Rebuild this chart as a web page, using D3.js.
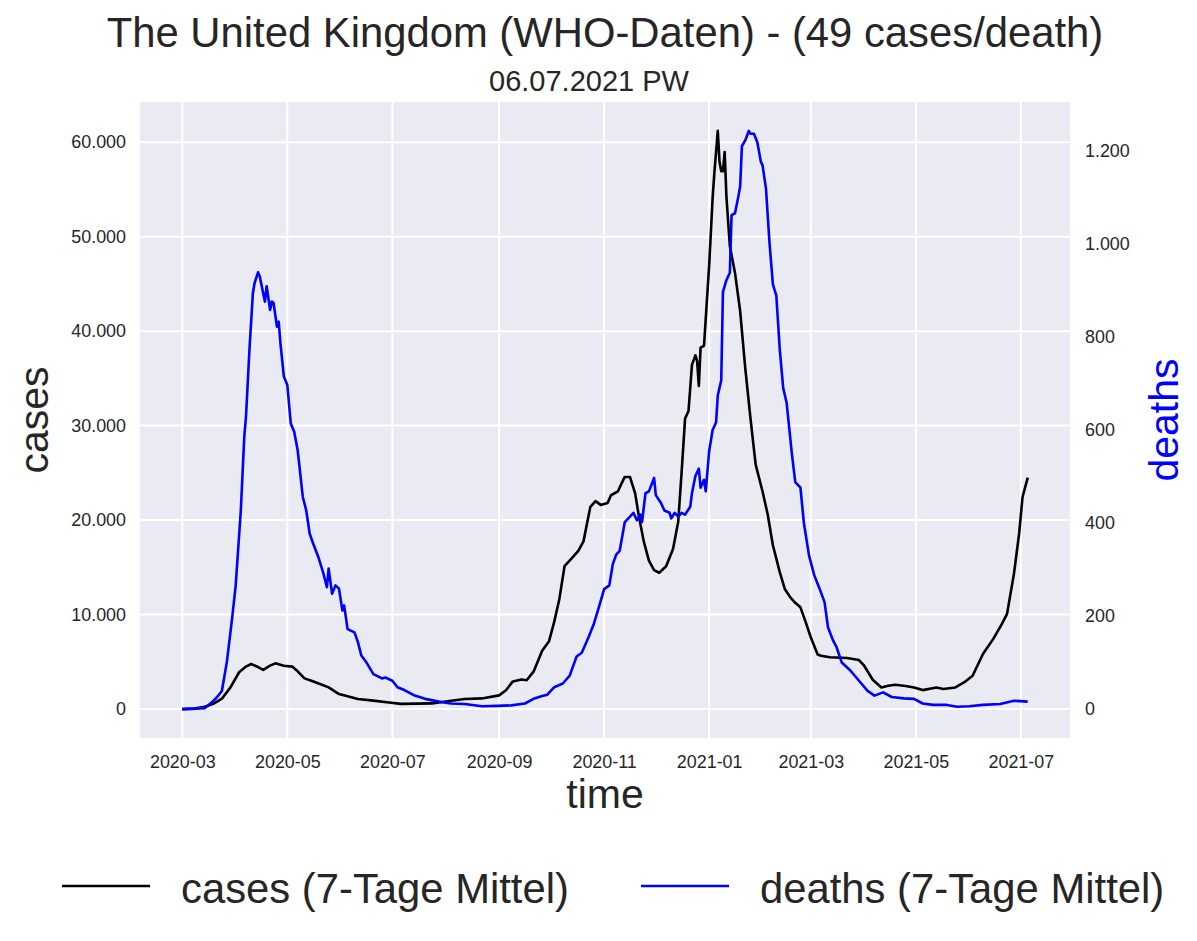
<!DOCTYPE html>
<html lang="en">

<head>
    <meta charset="utf-8">
    <title>UK cases / deaths</title>
    <script src="https://d3js.org/d3.v7.min.js"></script>
    <style>
        body { margin: 0; background: #fff; }
        text { font-family: "Liberation Sans", Arial, sans-serif; fill: #262626; }
    </style>
</head>

<body>
    <script type="text/javascript">

        // 7-day mean of new cases (WHO)
        var caseDates = ["2020-03-01","2020-03-08","2020-03-14","2020-03-19","2020-03-24","2020-03-29","2020-04-03","2020-04-07","2020-04-10","2020-04-14",
            "2020-04-17","2020-04-21","2020-04-24","2020-04-29","2020-05-04","2020-05-07","2020-05-11","2020-05-15","2020-05-20","2020-05-25",
            "2020-05-31","2020-06-05","2020-06-11","2020-06-20","2020-06-29","2020-07-06","2020-07-15","2020-07-24","2020-08-03","2020-08-12",
            "2020-08-22","2020-09-01","2020-09-05","2020-09-09","2020-09-14","2020-09-17","2020-09-21","2020-09-26","2020-09-30","2020-10-03",
            "2020-10-06","2020-10-09","2020-10-13","2020-10-17","2020-10-20","2020-10-24","2020-10-27","2020-10-30","2020-11-03","2020-11-05",
            "2020-11-09","2020-11-11","2020-11-13","2020-11-16","2020-11-19","2020-11-21","2020-11-24","2020-11-27","2020-11-30","2020-12-03",
            "2020-12-07","2020-12-11","2020-12-14","2020-12-16","2020-12-18","2020-12-20","2020-12-22","2020-12-24","2020-12-25","2020-12-26",
            "2020-12-27","2020-12-29","2021-01-01","2021-01-03","2021-01-04","2021-01-06","2021-01-07","2021-01-08","2021-01-09","2021-01-10",
            "2021-01-11","2021-01-13","2021-01-16","2021-01-19","2021-01-22","2021-01-25","2021-01-28","2021-02-01","2021-02-04","2021-02-07",
            "2021-02-11","2021-02-14","2021-02-17","2021-02-20","2021-02-23","2021-02-26","2021-03-01","2021-03-05","2021-03-07","2021-03-12",
            "2021-03-22","2021-03-29","2021-04-01","2021-04-06","2021-04-11","2021-04-15","2021-04-19","2021-04-25","2021-04-30","2021-05-05",
            "2021-05-13","2021-05-17","2021-05-24","2021-05-29","2021-06-03","2021-06-09","2021-06-15","2021-06-20","2021-06-23","2021-06-27",
            "2021-06-30","2021-07-02","2021-07-05"];
        var caseValues = [0, 50, 240, 550, 1100, 2300, 3900, 4500, 4770, 4450,
            4150, 4600, 4840, 4590, 4490, 4000, 3250, 3000, 2650, 2300,
            1590, 1350, 1060, 900, 700, 550, 580, 600, 850, 1060,
            1130, 1450, 2000, 2930, 3140, 3050, 3960, 6180, 7190, 9230,
            11660, 15120, 15920, 16740, 17750, 21410, 22010, 21610, 21810, 22630,
            23030, 23840, 24570, 24570, 22840, 20590, 17750, 15720, 14700, 14430,
            15120, 16940, 19790, 25070, 30740, 31550, 36430, 37440, 36830, 34190,
            38250, 38450, 46980, 54080, 56720, 61190, 57940, 56920, 56920, 58960,
            54290, 49010, 46160, 42100, 36010, 30740, 25870, 23030, 20590, 17340,
            14500, 12680, 11860, 11250, 10770, 9230, 7600, 5770, 5650, 5480,
            5410, 5190, 4590, 3100, 2290, 2470, 2580, 2450, 2290, 2010,
            2290, 2120, 2290, 2820, 3530, 5830, 7430, 9020, 10080, 14320,
            18560, 22450, 24500];

        // 7-day mean of new deaths (WHO)
        var deathDates = ["2020-03-01","2020-03-09","2020-03-14","2020-03-18","2020-03-21","2020-03-24","2020-03-27","2020-03-30","2020-04-01","2020-04-04",
            "2020-04-06","2020-04-07","2020-04-09","2020-04-11","2020-04-12","2020-04-14","2020-04-15","2020-04-18","2020-04-19","2020-04-21",
            "2020-04-22","2020-04-23","2020-04-25","2020-04-26","2020-04-27","2020-04-29","2020-05-01","2020-05-03","2020-05-05","2020-05-07",
            "2020-05-10","2020-05-12","2020-05-14","2020-05-16","2020-05-19","2020-05-22","2020-05-24","2020-05-25","2020-05-27","2020-05-29",
            "2020-05-31","2020-06-02","2020-06-03","2020-06-05","2020-06-09","2020-06-11","2020-06-13","2020-06-16","2020-06-20","2020-06-25",
            "2020-06-27","2020-07-01","2020-07-04","2020-07-08","2020-07-14","2020-07-20","2020-07-28","2020-08-04","2020-08-12","2020-08-22",
            "2020-08-31","2020-09-08","2020-09-16","2020-09-21","2020-09-26","2020-09-29","2020-10-03","2020-10-08","2020-10-12","2020-10-16",
            "2020-10-19","2020-10-23","2020-10-26","2020-10-29","2020-11-01","2020-11-04","2020-11-06","2020-11-08","2020-11-10","2020-11-13",
            "2020-11-16","2020-11-18","2020-11-20","2020-11-22","2020-11-23","2020-11-25","2020-11-27","2020-11-30","2020-12-01","2020-12-04",
            "2020-12-06","2020-12-09","2020-12-10","2020-12-12","2020-12-14","2020-12-16","2020-12-18","2020-12-21","2020-12-22","2020-12-24",
            "2020-12-26","2020-12-27","2020-12-29","2020-12-30","2021-01-01","2021-01-03","2021-01-05","2021-01-06","2021-01-08","2021-01-09",
            "2021-01-11","2021-01-13","2021-01-14","2021-01-16","2021-01-18","2021-01-19","2021-01-20","2021-01-22","2021-01-24","2021-01-25",
            "2021-01-27","2021-01-29","2021-01-31","2021-02-01","2021-02-03","2021-02-05","2021-02-07","2021-02-09","2021-02-11","2021-02-13",
            "2021-02-15","2021-02-18","2021-02-20","2021-02-23","2021-02-25","2021-02-28","2021-03-03","2021-03-06","2021-03-09","2021-03-11",
            "2021-03-14","2021-03-16","2021-03-19","2021-03-24","2021-03-29","2021-04-03","2021-04-07","2021-04-12","2021-04-17","2021-04-24",
            "2021-04-30","2021-05-05","2021-05-11","2021-05-19","2021-05-25","2021-06-01","2021-06-09","2021-06-19","2021-06-27","2021-07-05"];
        var deathValues = [0, 1, 2, 14, 25, 39, 104, 197, 265, 427,
            585, 628, 772, 894, 916, 939, 930, 876, 909, 858,
            876, 873, 822, 833, 787, 715, 697, 614, 596, 557,
            456, 427, 377, 356, 327, 291, 262, 302, 248, 266,
            259, 212, 223, 172, 165, 144, 115, 100, 75, 66,
            68, 61, 47, 41, 29, 22, 16, 12, 11, 6,
            7, 8, 12, 22, 28, 31, 47, 55, 72, 113,
            121, 155, 183, 220, 258, 266, 311, 332, 340, 402,
            414, 422, 406, 418, 402, 464, 468, 497, 460, 443,
            427, 422, 410, 422, 414, 422, 418, 435, 464, 501,
            517, 476, 493, 468, 555, 600, 616, 674, 707, 897,
            922, 938, 1062, 1066, 1103, 1124, 1210, 1223, 1243, 1237,
            1237, 1218, 1177, 1169, 1119, 1004, 913, 889, 773, 690,
            658, 550, 488, 476, 400, 330, 288, 260, 230, 176,
            147, 133, 100, 83, 61, 39, 29, 36, 26, 23,
            22, 12, 9, 9, 5, 6, 9, 11, 18, 16];

        var caseTicks = [0, 10000, 20000, 30000, 40000, 50000, 60000];
        var deathTicks = [0, 200, 400, 600, 800, 1000, 1200];
        var monthTicks = ["2020-03-01","2020-05-01","2020-07-01","2020-09-01","2020-11-01",
            "2021-01-01","2021-03-01","2021-05-01","2021-07-01"];

        var w = 1197;
        var h = 941;
        var mLeft = 140, mRight = 1070, mTop = 102, mBottom = 738;

        var parse = d3.utcParse("%Y-%m-%d");
        var cases = caseDates.map(function (d, i) { return {date: parse(d), value: caseValues[i]}; });
        var deaths = deathDates.map(function (d, i) { return {date: parse(d), value: deathValues[i]}; });

        // matplotlib style 5% margins
        function pad(ext) {
            var m = (ext[1] - ext[0]) * 0.05;
            return [ext[0] - m, ext[1] + m];
        }
        var tExt = d3.extent(cases.concat(deaths), function (d) { return +d.date; });
        var x = d3.scaleUtc().domain(pad(tExt).map(function (t) { return new Date(t); })).range([mLeft, mRight]);
        var y = d3.scaleLinear().domain(pad(d3.extent(caseValues))).range([mBottom, mTop]);
        var y2 = d3.scaleLinear().domain(pad(d3.extent(deathValues))).range([mBottom, mTop]);

        var de = d3.formatLocale({decimal: ",", thousands: ".", grouping: [3], currency: ["", "€"]});
        var fmt = de.format(",d");

        var svg = d3.select("body")
            .append("svg")
            .attr("width", w)
            .attr("height", h);

        svg.append("rect")
            .attr("x", mLeft).attr("y", mTop)
            .attr("width", mRight - mLeft).attr("height", mBottom - mTop)
            .attr("fill", "#EAEAF2");

        // grid
        svg.append("g").selectAll("line")
            .data(monthTicks.map(parse))
            .enter().append("line")
            .attr("x1", function (d) { return x(d); })
            .attr("x2", function (d) { return x(d); })
            .attr("y1", mTop).attr("y2", mBottom)
            .attr("stroke", "#fff").attr("stroke-width", 2);

        svg.append("g").selectAll("line")
            .data(caseTicks)
            .enter().append("line")
            .attr("x1", mLeft).attr("x2", mRight)
            .attr("y1", function (d) { return y(d); })
            .attr("y2", function (d) { return y(d); })
            .attr("stroke", "#fff").attr("stroke-width", 2);

        // axes (no tick marks, seaborn darkgrid)
        var xAxis = svg.append("g")
            .attr("transform", "translate(0," + mBottom + ")")
            .call(d3.axisBottom(x).tickValues(monthTicks.map(parse))
                .tickFormat(d3.utcFormat("%Y-%m")).tickSize(0).tickPadding(17));
        var yAxis = svg.append("g")
            .attr("transform", "translate(" + mLeft + ",0)")
            .call(d3.axisLeft(y).tickValues(caseTicks).tickFormat(fmt).tickSize(0).tickPadding(14));
        var yAxis2 = svg.append("g")
            .attr("transform", "translate(" + mRight + ",0)")
            .call(d3.axisRight(y2).tickValues(deathTicks).tickFormat(fmt).tickSize(0).tickPadding(15));

        [xAxis, yAxis, yAxis2].forEach(function (g) {
            g.select(".domain").remove();
            g.selectAll("text")
                .style("font-family", "'Liberation Sans', Arial, sans-serif")
                .style("font-size", "17.9px")
                .attr("fill", "#262626");
        });

        // lines
        var caseLine = d3.line()
            .x(function (d) { return x(d.date); })
            .y(function (d) { return y(d.value); });
        var deathLine = d3.line()
            .x(function (d) { return x(d.date); })
            .y(function (d) { return y2(d.value); });

        svg.append("path")
            .datum(cases)
            .attr("fill", "none")
            .attr("stroke", "#000")
            .attr("stroke-width", 2.6)
            .attr("stroke-linejoin", "round")
            .attr("d", caseLine);

        svg.append("path")
            .datum(deaths)
            .attr("fill", "none")
            .attr("stroke", "#0000ff")
            .attr("stroke-width", 2.6)
            .attr("stroke-linejoin", "round")
            .attr("d", deathLine);

        // titles and labels
        svg.append("text")
            .attr("x", (mLeft + mRight) / 2).attr("y", 47)
            .attr("text-anchor", "middle")
            .style("font-size", "41.8px")
            .text("The United Kingdom (WHO-Daten) - (49 cases/death)");

        svg.append("text")
            .attr("x", 589).attr("y", 91)
            .attr("text-anchor", "middle")
            .style("font-size", "29px")
            .text("06.07.2021 PW");

        svg.append("text")
            .attr("x", (mLeft + mRight) / 2).attr("y", 808)
            .attr("text-anchor", "middle")
            .style("font-size", "41px")
            .text("time");

        svg.append("text")
            .attr("transform", "translate(48," + ((mTop + mBottom) / 2) + ") rotate(-90)")
            .attr("text-anchor", "middle")
            .style("font-size", "41px")
            .text("cases");

        svg.append("text")
            .attr("transform", "translate(1178," + ((mTop + mBottom) / 2) + ") rotate(-90)")
            .attr("text-anchor", "middle")
            .style("font-size", "41px")
            .style("fill", "#0000ff")
            .text("deaths");

        // legend
        var legend = [
            {label: "cases (7-Tage Mittel)", color: "#000", x: 62},
            {label: "deaths (7-Tage Mittel)", color: "#0000ff", x: 641}
        ];
        var lg = svg.selectAll("g.legend")
            .data(legend)
            .enter().append("g")
            .attr("class", "legend")
            .attr("transform", function (d) { return "translate(" + d.x + ",886)"; });
        lg.append("line")
            .attr("x1", 0).attr("x2", 88)
            .attr("stroke", function (d) { return d.color; })
            .attr("stroke-width", 2.6);
        lg.append("text")
            .attr("x", 119).attr("y", 17)
            .style("font-size", "41.8px")
            .text(function (d) { return d.label; });

    </script>
</body>

</html>
